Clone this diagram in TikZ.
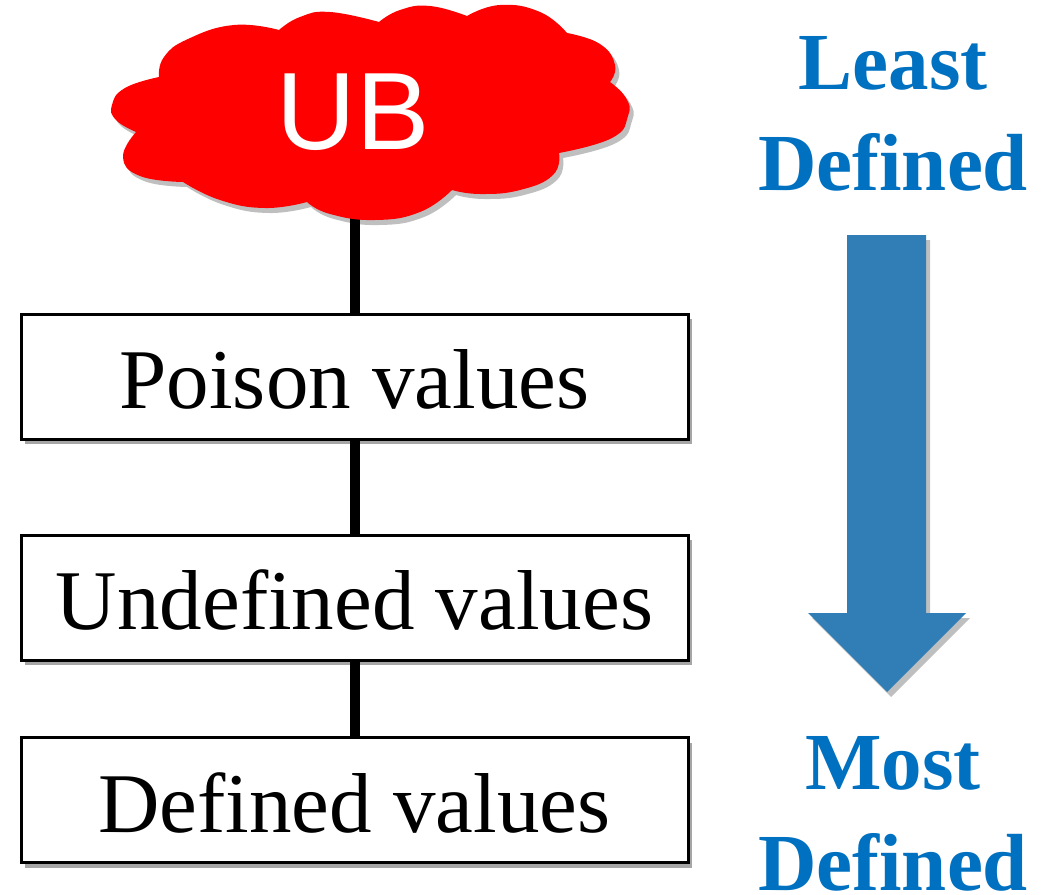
\documentclass[tikz,border=0pt]{standalone}
\usepackage{fontspec}
\setmainfont{Liberation Serif}
\newfontfamily\ubfont{Liberation Sans}
\usetikzlibrary{shadows,backgrounds}

\definecolor{ubred}{RGB}{255,0,0}
\definecolor{labelblue}{RGB}{0,112,192}
\definecolor{arrowblue}{RGB}{48,126,181}

\tikzset{
  levelbox/.style={draw=black, line width=3pt, fill=white,
    minimum width=667pt, minimum height=125pt, inner sep=0pt,
    text height=64pt, text depth=0pt,
    font=\fontsize{85}{100}\selectfont,
    drop shadow={shadow xshift=4pt, shadow yshift=-5pt, opacity=0.35, fill=black}},
  link/.style={line width=10pt, black},
  sidelabel/.style={text=labelblue, align=center, inner sep=0pt,
    font=\bfseries\fontsize{81}{101}\selectfont},
  softshadow/.style={drop shadow={shadow xshift=4pt, shadow yshift=-5pt, opacity=0.25, fill=black}},
}

\begin{document}
\begin{tikzpicture}[x=1pt, y=-1pt]
  \useasboundingbox (0,0) rectangle (1048,894);

  % the red cloud for undefined behaviour, lobe by lobe
  \fill[ubred, softshadow]
    plot[smooth, tension=0.8] coordinates {(136,132) (116,120) (112,105) (125,88) (159,77)}
    -- plot[smooth, tension=0.8] coordinates {(159,77) (164,57) (188,39) (234,25) (279,30)}
    -- plot[smooth, tension=0.8] coordinates {(279,30) (300,17) (330,12) (379,22)}
    -- plot[smooth, tension=0.8] coordinates {(379,22) (400,10) (430,6) (467,16)}
    -- plot[smooth, tension=0.8] coordinates {(467,16) (500,5) (540,12) (567,33)}
    -- plot[smooth, tension=0.8] coordinates {(567,33) (600,44) (615,65) (610,82)}
    -- plot[smooth, tension=0.8] coordinates {(610,82) (626,98) (628,116) (612,138) (559,153)}
    -- plot[smooth, tension=0.8] coordinates {(559,153) (553,175) (520,190) (480,194) (452,190)}
    -- plot[smooth, tension=0.8] coordinates {(452,190) (420,212) (375,220) (330,214) (307,202)}
    -- plot[smooth, tension=0.8] coordinates {(307,202) (265,208) (220,200) (183,182)}
    -- plot[smooth, tension=0.8] coordinates {(183,182) (140,176) (123,157) (136,132)}
    -- cycle;
  \coordinate (ub) at (370,112);
  \node[text=white, inner sep=0pt, font=\ubfont\fontsize{110}{120}\selectfont]
        (ubtext) at (353,112) {UB};

  % the three levels
  \node[levelbox] (poison)    at (354.5,376.5) {Poison values};
  \node[levelbox] (undefined) at (354.5,597.5) {Undefined values};
  \node[levelbox] (defined)   at (354.5,800)   {Defined values};

  % vertical links behind the shapes
  \begin{scope}[on background layer]
    \draw[link] (poison.north) -- (poison.north |- ub);
    \draw[link] (undefined.north) -- (poison.south);
    \draw[link] (defined.north) -- (undefined.south);
  \end{scope}

  % direction arrow on the right
  \fill[arrowblue, softshadow]
    (847,235) -- (926,235) -- (926,613) -- (966,613) -- (887,692)
    -- (808,613) -- (847,613) -- cycle;

  % labels: base anchor sits on the last line
  \node[sidelabel, anchor=base] (least) at (893,190) {Least\\Defined};
  \node[sidelabel, anchor=base] (most)  at (893,890) {Most\\Defined};
\end{tikzpicture}
\end{document}
